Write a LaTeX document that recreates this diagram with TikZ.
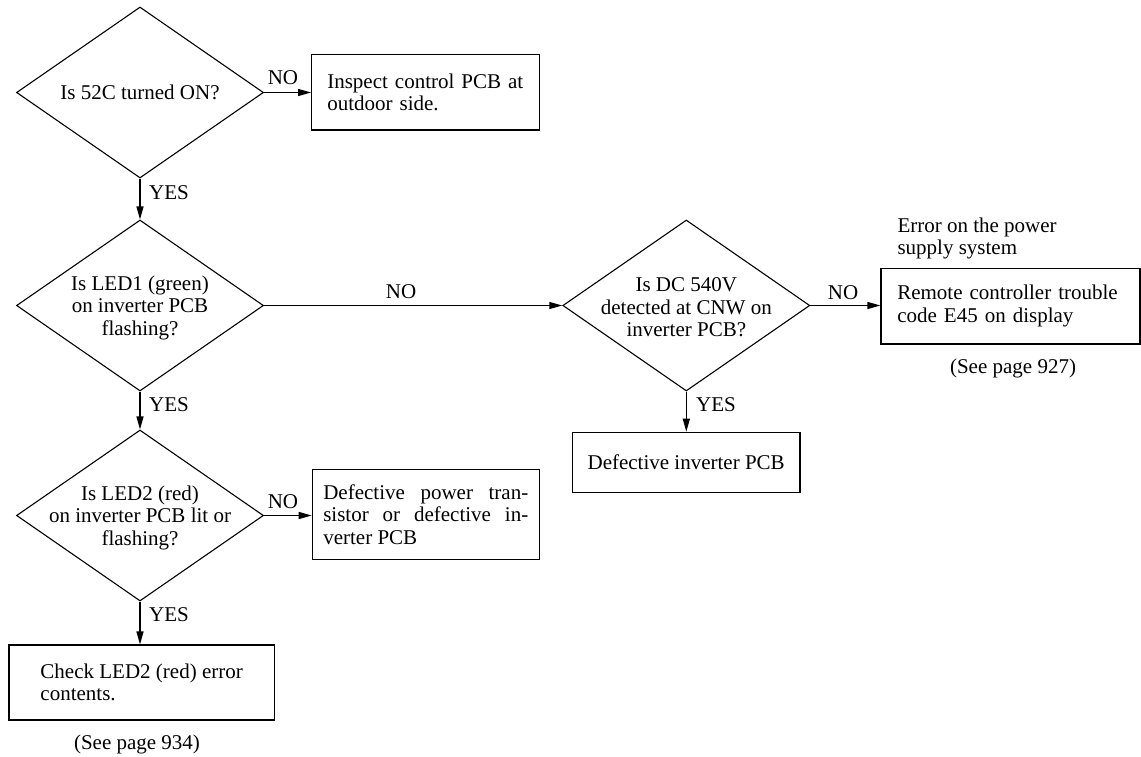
\documentclass[tikz,border=0pt]{standalone}
\usepackage{fontspec}
\setmainfont{Liberation Serif}
\usetikzlibrary{shapes.geometric,arrows.meta}
\begin{document}
\begin{tikzpicture}[x=1pt,y=-1pt,
  font=\fontsize{21}{22.5}\selectfont,
  dia/.style={draw,shape=diamond,minimum width=247pt,minimum height=171pt,inner sep=0pt,line width=1.1pt},
  boxnode/.style={draw,rectangle,line width=1.2pt,inner sep=0pt},
  txt/.style={align=center,inner sep=0pt},
  lbl/.style={anchor=base,inner sep=0pt},
  arr/.style={line width=1.2pt,-{Triangle[length=13pt,width=7pt]}}]
\useasboundingbox (0,0) rectangle (1141,757);

% decisions
\node[dia] (d1) at (140,92.5) {};
\node[txt] (t1) at (d1.center) {Is 52C turned ON?};
\node[dia] (d2) at (140,305.5) {};
\node[txt,yshift=-2pt] (t2) at (d2.center) {Is LED1 (green)\\on inverter PCB\\flashing?};
\node[dia] (d3) at (140,515.5) {};
\node[txt,yshift=-2pt] (t3) at (d3.center) {Is LED2 (red)\\on inverter PCB lit or\\flashing?};
\node[dia] (d4) at (686.3,305.5) {};
\node[txt,yshift=-2pt] (t4) at (d4.center) {Is DC 540V\\detected at CNW on\\inverter PCB?};

% boxes
\node[boxnode,minimum width=227.6pt,minimum height=75.3pt,text width=196.4pt,inner xsep=15.6pt,align=left] (b1) at (425.5,92.35) {Inspect control PCB at\\outdoor side.};
\node[boxnode,minimum width=227pt,minimum height=90pt,inner xsep=11pt,align=left] (b3) at (425.8,514.5) {\makebox[205pt][s]{Defective power tran-}\\\makebox[205pt][s]{sistor or defective in-}\\verter PCB};
\node[boxnode,minimum width=259pt,minimum height=75.7pt,text width=226.4pt,inner xsep=16.3pt,align=left] (b4) at (1010.5,306.15) {Remote controller trouble\\code E45 on display};
\node[boxnode,minimum width=265.3pt,minimum height=75pt,align=left] (b5) at (141.65,682.5) {Check LED2 (red) error\\contents.};
\node[boxnode,minimum width=227.7pt,minimum height=60.4pt] (b6) at (686.15,462.5) {Defective inverter PCB};

% free texts
\node[anchor=north west,align=left,inner sep=0pt] (e1) at (897.3,217.4) {Error on the power\\supply system};
\node[lbl] (s1) at (1013,373.3) {(See page 927)};
\node[lbl] (s2) at (137,749.5) {(See page 934)};

% connectors
\draw[arr] (d1.east) -- (d1.east -| b1.west);
\draw[arr] (d1.south) -- (d2.north);
\draw[arr] (d2.east) -- (d4.west);
\draw[arr] (d4.east) -- (d4.east -| b4.west);
\draw[arr] (d2.south) -- (d3.north);
\draw[arr] (d3.east) -- (d3.east -| b3.west);
\draw[arr] (d3.south) -- (d3.south |- b5.north);
\draw[arr] (d4.south) -- (d4.south |- b6.north);

% labels
\node[lbl] (n1) at (283,85) {NO};
\node[lbl] (n2) at (401,298.3) {NO};
\node[lbl] (n3) at (283,508) {NO};
\node[lbl] (n4) at (843,299) {NO};
\node[lbl,anchor=base west] (y1) at (149,199.5) {YES};
\node[lbl,anchor=base west] (y2) at (149,411.7) {YES};
\node[lbl,anchor=base west] (y3) at (149,621.6) {YES};
\node[lbl,anchor=base west] (y4) at (696,411.7) {YES};
\end{tikzpicture}
\end{document}
